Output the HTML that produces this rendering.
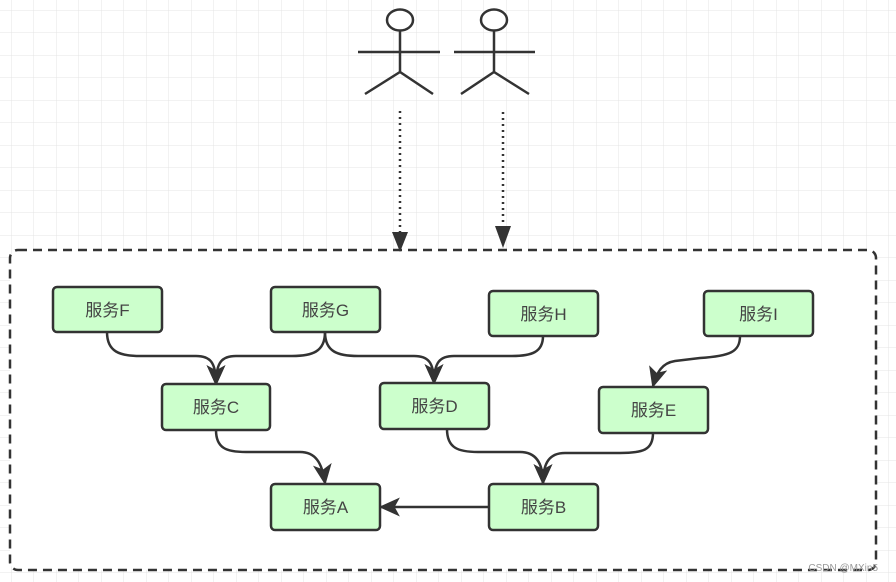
<!DOCTYPE html>
<html><head><meta charset="utf-8">
<style>
html,body{margin:0;padding:0;width:896px;height:582px;overflow:hidden;background:#fff;}
svg{display:block}
text{font-family:"Liberation Sans","Noto Sans CJK SC",sans-serif;font-size:17px;fill:#444;}
</style></head><body>
<svg width="896" height="582" viewBox="0 0 896 582">
<defs>
<pattern id="g" width="22.5" height="22.5" patternUnits="userSpaceOnUse" x="11" y="10">
<path d="M0 0H22.5M0 0V22.5" stroke="#e4e4e4" stroke-width="1" fill="none"/>
</pattern>
<marker id="ah" viewBox="0 0 20 20" refX="18" refY="10" markerWidth="21" markerHeight="21" markerUnits="userSpaceOnUse" orient="auto">
<path d="M0,1 L20,10 L0,19 L5,10 Z" fill="#333"/>
</marker>
</defs>
<rect width="896" height="582" fill="url(#g)"/>
<rect x="10" y="250" width="866" height="320" rx="8" fill="#fff" stroke="#333" stroke-width="2.5" stroke-dasharray="9,6"/>
<g stroke="#333" stroke-width="2.5" fill="#fff">
<ellipse cx="400" cy="20" rx="13" ry="10.5"/>
<path d="M400 31V72M358 52H440M365 94L400 72L433 94" fill="none"/>
<ellipse cx="494" cy="20" rx="13" ry="10.5"/>
<path d="M494 31V72M454 52H535M461 94L494 72L529 94" fill="none"/>
</g>
<g stroke="#333" stroke-width="2.5" fill="none" stroke-dasharray="2,4">
<path d="M400 111V236"/>
<path d="M503 112V230"/>
</g>
<path d="M392 232L400 252L408 232Z" fill="#333"/>
<path d="M495 226L503 248L511 226Z" fill="#333"/>
<g stroke="#333" stroke-width="2.5" fill="none" marker-end="url(#ah)">
<path d="M107,332 C107,352 120,356 140,356 L196,356 C210,356 216,362 216,384"/>
<path d="M325,332 C325,352 312,356 292,356 L236,356 C222,356 216,362 216,384"/>
<path d="M325,332 C325,352 338,356 358,356 L414,356 C428,356 434,362 434,383"/>
<path d="M543,336 C543,352 532,356 512,356 L454,356 C440,356 434,362 434,383"/>
<path d="M740,336 C740,352 730,356 700,358 L675,361 C662,363 657,372 653,386"/>
<path d="M216,430 C216,448 226,452 246,452 L300,452 C315,452 322,462 325,483"/>
<path d="M447,429 C447,448 458,452 478,452 L520,452 C535,452 543,462 543,483"/>
<path d="M653,433 C653,450 643,453 620,453 L565,453 C550,453 543,462 543,483"/>
<path d="M489,507 L381,507"/>
</g>
<g stroke="#333" stroke-width="2.5" fill="#ccffcc">
<rect x="53" y="287" width="109" height="45" rx="4"/>
<rect x="271" y="287" width="109" height="45" rx="4"/>
<rect x="489" y="291" width="109" height="45" rx="4"/>
<rect x="704" y="291" width="109" height="45" rx="4"/>
<rect x="162" y="384" width="108" height="46" rx="4"/>
<rect x="380" y="383" width="109" height="46" rx="4"/>
<rect x="599" y="387" width="109" height="46" rx="4"/>
<rect x="271" y="484" width="109" height="46" rx="4"/>
<rect x="489" y="484" width="109" height="46" rx="4"/>
</g>
<g text-anchor="middle">
<text x="107.5" y="316">服务F</text>
<text x="325.5" y="316">服务G</text>
<text x="543.5" y="320">服务H</text>
<text x="758.5" y="320">服务I</text>
<text x="216" y="413">服务C</text>
<text x="434.5" y="412">服务D</text>
<text x="653.5" y="416">服务E</text>
<text x="325.5" y="513">服务A</text>
<text x="543.5" y="513">服务B</text>
</g>
<text x="878" y="571" text-anchor="end" style="font-size:10px;fill:#999">CSDN @MXin5</text>
</svg>
</body></html>
